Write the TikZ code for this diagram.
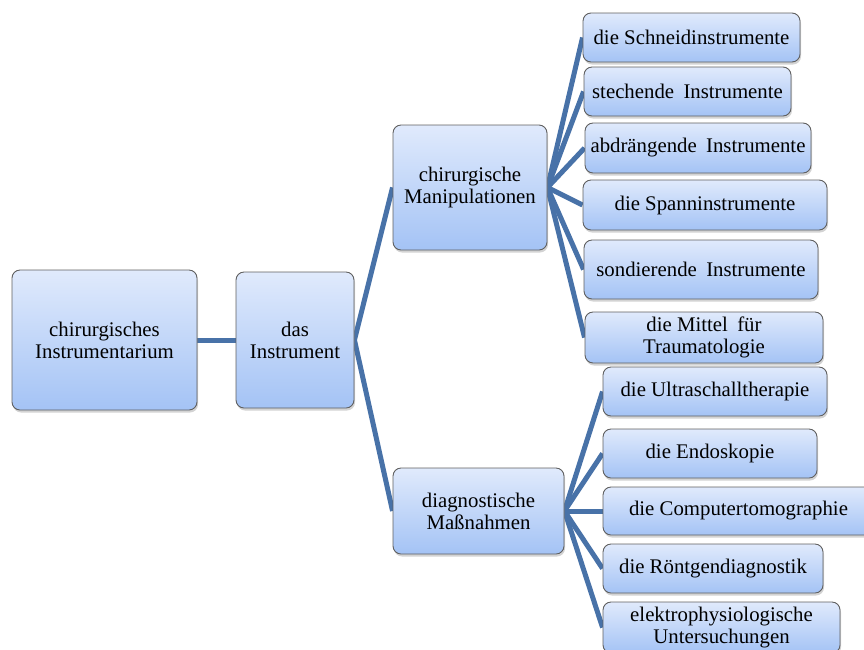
\documentclass[tikz,border=0pt]{standalone}
\usepackage{fontspec}
\setmainfont{Liberation Serif}
\usetikzlibrary{shadows,backgrounds}

\definecolor{boxtop}{RGB}{224,234,252}
\definecolor{boxbot}{RGB}{164,195,245}
\definecolor{boxedge}{RGB}{95,95,95}
\definecolor{linkblue}{RGB}{72,114,168}

\tikzset{
  box/.style={rectangle, rounded corners=8pt, draw=boxedge, line width=0.9pt,
    top color=boxtop, bottom color=boxbot, align=center, inner sep=2pt,
    font=\fontsize{20.8}{22}\selectfont,
    drop shadow={shadow xshift=1pt, shadow yshift=-2.5pt, opacity=0.35}},
  link/.style={line width=5pt, linkblue}
}
\newcommand{\wsp}{\hspace{0.45em}}

\begin{document}
\begin{tikzpicture}[x=1pt, y=-1pt, line cap=round, line join=round]

\useasboundingbox (0,0) rectangle (864,649);
\clip (0,0) rectangle (864,649);

% Hierarchy
\node[box, minimum width=185pt, minimum height=140pt] (instrumentarium) at (104.5,340) {chirurgisches\\Instrumentarium};
\node[box, minimum width=118pt, minimum height=136pt] (instrument) at (295,340) {das\\Instrument};
\node[box, minimum width=154pt, minimum height=125pt] (manipulation) at (470,187.5) {chirurgische\\Manipulationen};
\node[box, minimum width=171pt, minimum height=86pt] (diagnostik) at (478.5,511) {diagnostische\\Maßnahmen};

% Manipulationen
\node[box, minimum width=217pt, minimum height=49pt] (schneid) at (691.5,37.5) {die Schneidinstrumente};
\node[box, minimum width=207pt, minimum height=49pt] (stech) at (687.5,91.5) {stechende\wsp Instrumente};
\node[box, minimum width=226pt, minimum height=50pt] (abdraeng) at (698,148) {abdrängende\wsp Instrumente};
\node[box, minimum width=244pt, minimum height=50pt] (spann) at (705,205) {die Spanninstrumente};
\node[box, minimum width=234pt, minimum height=59pt] (sondier) at (701,269.5) {sondierende\wsp Instrumente};
\node[box, minimum width=238pt, minimum height=51pt] (trauma) at (704,337.5) {die Mittel\wsp für\\Traumatologie};

% Diagnostik
\node[box, minimum width=224pt, minimum height=49pt] (ultra) at (715,391.5) {die Ultraschalltherapie};
\node[box, minimum width=214pt, minimum height=49pt] (endo) at (710,453.5) {die Endoskopie};
\node[box, minimum width=271pt, minimum height=48pt] (ct) at (738.5,511) {die Computertomographie};
\node[box, minimum width=220pt, minimum height=49pt] (roentgen) at (713,568.5) {die Röntgendiagnostik};
\node[box, minimum width=237pt, minimum height=51pt] (elektro) at (721.5,627.5) {elektrophysiologische\\Untersuchungen};

% Connectors
\begin{scope}[on background layer]
  \draw[link] (instrumentarium.east) -- (instrument.west);
  \foreach \child in {manipulation, diagnostik}
    \draw[link] (instrument.east) -- (\child.west);
  \foreach \child in {schneid, stech, abdraeng, spann, sondier, trauma}
    \draw[link] (manipulation.east) -- (\child.west);
  \foreach \child in {ultra, endo, ct, roentgen, elektro}
    \draw[link] (diagnostik.east) -- (\child.west);
\end{scope}

\end{tikzpicture}
\end{document}
